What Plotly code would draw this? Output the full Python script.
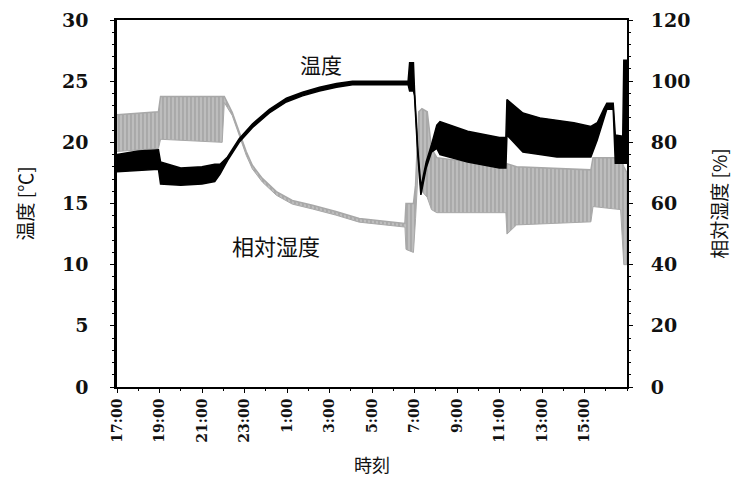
import plotly.graph_objects as go

# hours since 17:00
tick_vals = [0, 2, 4, 6, 8, 10, 12, 14, 16, 18, 20, 22]
tick_text = ["17:00", "19:00", "21:00", "23:00", "1:00", "3:00", "5:00",
             "7:00", "9:00", "11:00", "13:00", "15:00"]

# temperature envelope (upper / lower edge of the noisy trace), deg C
temp_x = [0.0, 1.0, 1.95, 2.05, 3.0, 4.0, 4.6, 4.85, 5.2, 5.75, 6.37, 7.17, 7.97,
          8.73, 9.53, 10.33, 11.08, 12.7, 13.7, 13.77, 13.95, 14.0, 14.15, 14.3,
          14.55, 14.8, 15.05, 15.2, 16.5, 18.0, 18.3, 18.35, 19.1, 19.9, 20.7,
          21.5, 22.3, 22.6, 22.9, 23.05, 23.35, 23.45, 23.8, 23.85, 24.0]
temp_hi = [19.0, 19.3, 19.4, 18.4, 17.9, 18.0, 18.2, 18.2, 18.8, 20.3, 21.5, 22.7, 23.6,
           24.1, 24.5, 24.8, 25.0, 25.0, 25.0, 26.5, 26.5, 24.3, 19.6, 16.3,
           18.4, 19.8, 21.4, 21.7, 20.9, 20.4, 20.4, 23.5, 22.4, 22.0, 21.8,
           21.6, 21.3, 21.6, 22.7, 23.2, 23.2, 20.6, 20.5, 26.7, 26.7]
temp_lo = [17.6, 17.7, 17.8, 16.6, 16.5, 16.6, 16.8, 17.4, 18.5, 20.0, 21.2, 22.4, 23.3,
           23.8, 24.2, 24.5, 24.7, 24.7, 24.7, 24.2, 24.2, 23.8, 19.1, 15.7,
           17.9, 19.2, 19.5, 19.0, 18.4, 17.9, 17.9, 20.6, 19.2, 19.0, 18.8,
           18.8, 18.8, 20.2, 22.0, 22.7, 22.7, 18.3, 18.3, 18.3, 18.3]

# relative humidity envelope, %
rh_x = [0.0, 1.95, 2.05, 4.95, 5.05, 5.42, 5.75, 6.08, 6.37, 6.84, 7.5, 8.25, 9.2,
        10.3, 11.4, 12.7, 13.55, 13.6, 13.95, 14.05, 14.2, 14.35, 14.6, 14.8,
        15.05, 18.3, 18.35, 18.8, 22.3, 22.4, 23.7, 23.85, 24.0]
rh_hi = [89, 90, 95, 95, 95, 89.8, 83.5, 77.0, 72.5, 68.2, 63.9, 61.0, 59.4,
         57.4, 55.1, 54.0, 53.5, 60, 60, 66, 90, 91, 90, 78,
         75, 72, 73, 72, 71, 75, 75, 72, 70]
rh_lo = [77, 78, 81, 80, 93, 88.8, 82.3, 75.8, 71.3, 67.0, 62.7, 59.8, 58.2,
         56.2, 53.9, 52.8, 52.3, 45, 44, 55, 75, 64, 62, 58,
         57, 57, 50, 53, 54, 59, 58, 40, 40]

fig = go.Figure()

# humidity band (gray, striped)
fig.add_trace(go.Scatter(x=rh_x, y=rh_lo, mode="lines",
                         line=dict(color="#a8a8a8", width=1), yaxis="y",
                         showlegend=False, hoverinfo="skip"))
fig.add_trace(go.Scatter(x=rh_x, y=rh_hi, mode="lines",
                         line=dict(color="#a8a8a8", width=1.5), yaxis="y",
                         fill="tonexty", fillcolor="#b0b0b0",
                         fillpattern=dict(shape="|", fgcolor="#858585",
                                          bgcolor="#bdbdbd", size=4, solidity=0.35),
                         showlegend=False, name="相対湿度"))

# temperature band (black)
fig.add_trace(go.Scatter(x=temp_x, y=temp_lo, mode="lines",
                         line=dict(color="black", width=1.5), yaxis="y2",
                         showlegend=False, hoverinfo="skip"))
fig.add_trace(go.Scatter(x=temp_x, y=temp_hi, mode="lines",
                         line=dict(color="black", width=1.5), yaxis="y2",
                         fill="tonexty", fillcolor="black",
                         showlegend=False, name="温度"))

tick_font = dict(family="DejaVu Serif", size=19, color="#111", weight="bold")
cjk = "Noto Sans CJK JP"

fig.update_layout(
    width=731, height=482,
    margin=dict(l=109, r=112, t=12, b=103, autoexpand=False),
    paper_bgcolor="white", plot_bgcolor="white",
    xaxis=dict(range=[0, 24], tickvals=tick_vals, ticktext=tick_text,
               tickangle=-90, ticks="outside", ticklen=4, tickcolor="black",
               tickfont=dict(family="DejaVu Serif", size=14, color="#111", weight="bold"),
               showline=True, linecolor="black", linewidth=2, mirror=True,
               showgrid=False, zeroline=False,
               minor=dict(dtick=1, ticks="outside", ticklen=2, tickcolor="black"),
               title=dict(text="時刻", font=dict(family=cjk, size=18, color="#111"),
                          standoff=18)),
    yaxis=dict(range=[0, 120], dtick=20, side="right", ticks="outside", ticklen=4,
               tickcolor="black", tickfont=tick_font, ticklabelstandoff=14,
               showline=True, linecolor="black", linewidth=2,
               showgrid=False, zeroline=False,
               minor=dict(dtick=4, ticks="outside", ticklen=2, tickcolor="black"),
               title=dict(text="相対湿度 [%]", font=dict(family=cjk, size=19, color="#111"),
                          standoff=24)),
    yaxis2=dict(range=[0, 30], dtick=5, side="left", overlaying="y", ticks="outside",
                ticklen=4, tickcolor="black", tickfont=tick_font, ticklabelstandoff=18,
                showline=True, linecolor="black", linewidth=2.5,
                showgrid=False, zeroline=False,
                minor=dict(dtick=1, ticks="outside", ticklen=2, tickcolor="black"),
                title=dict(text="温度 [℃]", font=dict(family=cjk, size=19, color="#111"),
                           standoff=24)),
    annotations=[
        dict(x=9.6, y=26.4, xref="x", yref="y2", text="温度", showarrow=False,
             font=dict(family=cjk, size=21, color="#111")),
        dict(x=7.5, y=11.6, xref="x", yref="y2", text="相対湿度", showarrow=False,
             font=dict(family=cjk, size=22, color="#111")),
    ],
)

fig.write_html("out.html")
